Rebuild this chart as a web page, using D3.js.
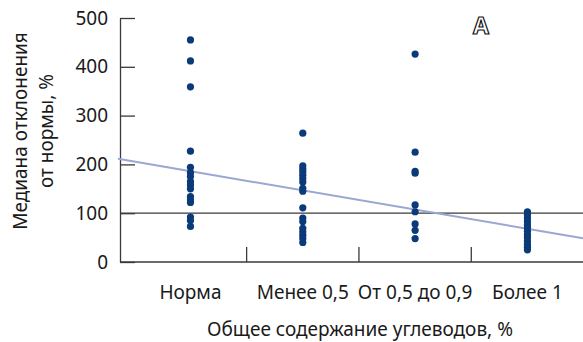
<!DOCTYPE html>
<html>
<head>
<meta charset="utf-8">
<script src="https://cdn.jsdelivr.net/npm/d3@7"></script>
<style>
  body { margin: 0; background: #fff; }
  svg { display: block; font-family: "Noto Sans", sans-serif; }
</style>
</head>
<body>
<div id="chart"></div>
<script>
// categories along x
let categories = ["Норма", "Менее 0,5", "От 0,5 до 0,9", "Более 1"];

// median deviation from norm, % (one array per category)
let normaValues = [455, 412, 359, 227, 194, 183, 175, 165, 158, 150, 134, 127, 122, 92, 85, 73];
let under05Values = [264, 197, 191, 185, 178, 171, 164, 151, 145, 111, 90, 83, 69, 62, 55, 48, 40];
let mid05to09Values = [426, 225, 186, 182, 117, 103, 78, 65, 48];
let over1Values = [103, 97, 90, 83, 76, 70, 63, 56, 50, 43, 36, 30, 25];

let yTicks = [0, 100, 200, 300, 400, 500];
let refValue = 100;

// linear trend: value = intercept + slope * categoryIndex
let trendIntercept = 186;
let trendSlope = -39.3;

let width = 583, height = 342;
let margin = { top: 18, bottom: 80, left: 120, right: 0 };
let fontSize = "19px";

let svg = d3.select("#chart").append("svg")
  .attr("width", width)
  .attr("height", height);

let xScale = d3.scaleBand()
  .domain(categories)
  .range([134.3, 583.6])
  .padding(0);

// same x positions as a continuous index scale (for the trend line)
let xIndex = d3.scaleLinear()
  .domain([-0.5, categories.length - 0.5])
  .range(xScale.range());

let yScale = d3.scaleLinear()
  .domain([0, 500])
  .range([height - margin.bottom, margin.top]);

let axisColor = "#3a3a3a";

// y axis, ticks pointing inward
let yAxis = d3.axisLeft(yScale)
  .tickValues(yTicks)
  .tickSizeInner(-15)
  .tickSizeOuter(0);

let gy = svg.append("g")
  .attr("transform", `translate(${margin.left},0)`)
  .call(yAxis);
gy.select(".domain").attr("stroke", axisColor).attr("stroke-width", 1.3);
gy.selectAll(".tick line").attr("stroke", axisColor).attr("stroke-width", 1.3);
gy.selectAll(".tick text")
  .attr("x", -12)
  .style("font-size", fontSize)
  .style("font-family", "Noto Sans")
  .attr("fill", "#1a1a1a");

// x axis line
svg.append("line")
  .attr("x1", margin.left).attr("x2", width)
  .attr("y1", yScale(0)).attr("y2", yScale(0))
  .attr("stroke", axisColor).attr("stroke-width", 1.3);

// x ticks between categories, pointing up
svg.selectAll(".xtick")
  .data(categories.slice(1))
  .enter()
  .append("line")
  .attr("class", "xtick")
  .attr("x1", d => xScale(d)).attr("x2", d => xScale(d))
  .attr("y1", yScale(0)).attr("y2", yScale(0) - 15)
  .attr("stroke", axisColor).attr("stroke-width", 1.3);

// x labels
svg.selectAll(".xlabel")
  .data(categories)
  .enter()
  .append("text")
  .attr("class", "xlabel")
  .attr("x", d => xScale(d) + xScale.bandwidth() / 2)
  .attr("y", 299)
  .attr("text-anchor", "middle")
  .style("font-size", fontSize)
  .attr("fill", "#1a1a1a")
  .text(d => d);

// reference line at 100%
svg.append("line")
  .attr("x1", margin.left).attr("x2", width)
  .attr("y1", yScale(refValue)).attr("y2", yScale(refValue))
  .attr("stroke", axisColor).attr("stroke-width", 1.3);

// trend line
let xStart = xIndex.invert(margin.left - 2);
let xEnd = xIndex.invert(width);
svg.append("line")
  .attr("x1", xIndex(xStart))
  .attr("y1", yScale(trendIntercept + trendSlope * xStart))
  .attr("x2", xIndex(xEnd))
  .attr("y2", yScale(trendIntercept + trendSlope * xEnd))
  .attr("stroke", "#9aa7d2")
  .attr("stroke-width", 2);

// points
let series = [normaValues, under05Values, mid05to09Values, over1Values];
let points = [];
series.forEach((vals, i) => {
  vals.forEach(v => points.push({ cat: categories[i], value: v }));
});

svg.selectAll(".dot")
  .data(points)
  .enter()
  .append("circle")
  .attr("class", "dot")
  .attr("cx", d => xScale(d.cat) + xScale.bandwidth() / 2)
  .attr("cy", d => yScale(d.value))
  .attr("r", 3.6)
  .attr("fill", "#0b3a78");

// axis titles
let yTitle = svg.append("text")
  .attr("transform", "translate(0,131) rotate(-90)")
  .attr("text-anchor", "middle")
  .style("font-size", fontSize)
  .attr("fill", "#1a1a1a");
yTitle.append("tspan").attr("x", 0).attr("y", 27).text("Медиана отклонения");
yTitle.append("tspan").attr("x", 0).attr("y", 53).text("от нормы, %");

svg.append("text")
  .attr("x", 360)
  .attr("y", 336)
  .attr("text-anchor", "middle")
  .style("font-size", fontSize)
  .attr("fill", "#1a1a1a")
  .text("Общее содержание углеводов, %");

// panel letter
svg.append("text")
  .attr("x", 481)
  .attr("y", 34)
  .attr("text-anchor", "middle")
  .style("font-size", "23px")
  .style("font-weight", "bold")
  .attr("fill", "#fff")
  .attr("stroke", "#111")
  .attr("stroke-width", 1.2)
  .text("A");
</script>
</body>
</html>
